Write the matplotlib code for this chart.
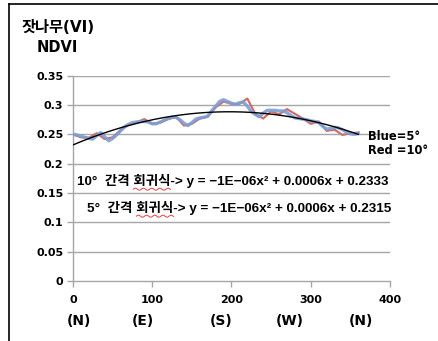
import numpy as np
import matplotlib
matplotlib.use("Agg")
import matplotlib.pyplot as plt
from matplotlib.lines import Line2D

plt.rcParams['font.family'] = ['DejaVu Sans', 'Noto Sans CJK KR']

# Azimuth (degrees) and NDVI for Korean pine
deg_5 = list(range(0, 361, 5))
ndvi_5 = [0.250, 0.249, 0.247, 0.245, 0.243, 0.242, 0.248, 0.253, 0.246, 0.239,
          0.243, 0.249, 0.256, 0.263, 0.267, 0.270, 0.271, 0.272, 0.272, 0.271,
          0.268, 0.268, 0.271, 0.274, 0.277, 0.279, 0.279, 0.275, 0.269, 0.265,
          0.270, 0.276, 0.278, 0.279, 0.281, 0.290, 0.298, 0.306, 0.309, 0.306,
          0.303, 0.301, 0.304, 0.305, 0.298, 0.289, 0.284, 0.280, 0.286, 0.291,
          0.291, 0.291, 0.290, 0.290, 0.287, 0.282, 0.278, 0.277, 0.276, 0.275,
          0.273, 0.272, 0.270, 0.264, 0.259, 0.260, 0.262, 0.261, 0.258, 0.254,
          0.251, 0.250, 0.252]

deg_10 = list(range(0, 361, 10))
ndvi_10 = [0.250, 0.245, 0.244, 0.252, 0.242, 0.245, 0.257, 0.266, 0.270, 0.276,
           0.268, 0.270, 0.276, 0.280, 0.265, 0.268, 0.277, 0.280, 0.296, 0.306,
           0.302, 0.302, 0.311, 0.285, 0.277, 0.289, 0.284, 0.293, 0.285, 0.277,
           0.268, 0.272, 0.256, 0.258, 0.249, 0.252, 0.253]

y_ticks = [0, 0.05, 0.1, 0.15, 0.2, 0.25, 0.3, 0.35]
y_tick_labels = ['0', '0.05', '0.1', '0.15', '0.2', '0.25', '0.3', '0.35']
x_ticks = [0, 100, 200, 300, 400]
directions = ['(N)', '(E)', '(S)', '(W)', '(N)']
direction_x = [8, 88, 187, 274, 363]

eq_10 = "10°  간격 회귀식-> y = −1E−06x² + 0.0006x + 0.2333"
eq_5 = "5°  간격 회귀식-> y = −1E−06x² + 0.0006x + 0.2315"

W, H = 439, 341
fig = plt.figure(figsize=(W / 100, H / 100), dpi=100)
ax = fig.add_axes([73 / W, 1 - 281 / H, (390 - 73) / W, (281 - 75.7) / H])

grid_c = '#a6a6a6'
ax.set_xlim(0, 400)
ax.set_ylim(0, 0.35)
ax.set_yticks(y_ticks)
ax.set_yticklabels(y_tick_labels)
ax.set_xticks(x_ticks)
for y in y_ticks[1:]:
    ax.axhline(y, color=grid_c, lw=1.0, zorder=0)
for s in ['top', 'right']:
    ax.spines[s].set_visible(False)
for s in ['left', 'bottom']:
    ax.spines[s].set_color(grid_c)
    ax.spines[s].set_linewidth(1.0)
ax.tick_params(axis='both', colors=grid_c, length=4, width=1, labelcolor='black',
               labelsize=8)
ax.tick_params(axis='x', pad=6)
ax.tick_params(axis='y', pad=3)
for lab in ax.get_xticklabels() + ax.get_yticklabels():
    lab.set_fontweight('bold')

# 10-degree series, 5-degree series and quadratic trend
ax.plot(deg_10, ndvi_10, color='#cf6f6c', lw=1.6, zorder=2)
ax.plot(deg_5, ndvi_5, color='#7d9ed3', lw=2.4, alpha=0.9, zorder=3)
coef = np.polyfit(deg_10, ndvi_10, 2)
xt = np.linspace(0, 360, 200)
ax.plot(xt, np.polyval(coef, xt), color='black', lw=1.0, zorder=4)

# Compass direction labels beneath the x tick labels
for p, d in zip(direction_x, directions):
    ax.text(p, -0.068, d, ha='center', va='center', fontsize=10, fontweight='bold',
            clip_on=False)

eq_font = ['Liberation Sans', 'Noto Sans CJK KR']
eq_texts = [
    ax.text(5, 0.171, eq_10, fontsize=9.7, fontweight='bold', va='center', family=eq_font),
    ax.text(18, 0.125, eq_5, fontsize=9.7, fontweight='bold', va='center', family=eq_font),
]
ax.text(372, 0.246, "Blue=5°", fontsize=8.3, fontweight='bold', va='center',
        clip_on=False)
ax.text(372, 0.222, "Red =10°", fontsize=8.3, fontweight='bold', va='center',
        clip_on=False)

fig.text(22 / W, 1 - 27 / H, "잣나무(VI)", fontsize=11, fontweight='bold',
         va='center', ha='left')
fig.text(37 / W, 1 - 48 / H, "NDVI", fontsize=10.5, fontweight='bold', va='center', ha='left')

# Spell-check underline beneath 회귀식 in each equation
fig.canvas.draw()
renderer = fig.canvas.get_renderer()
for t in eq_texts:
    full = t.get_text()
    start = full.index("회귀식")
    t_pre = fig.text(0, 0, full[:start], fontsize=9.7, fontweight='bold', family=eq_font)
    t_mid = fig.text(0, 0, full[:start + 3], fontsize=9.7, fontweight='bold', family=eq_font)
    w_pre = t_pre.get_window_extent(renderer).width
    w_mid = t_mid.get_window_extent(renderer).width
    t_pre.remove()
    t_mid.remove()
    bb = t.get_window_extent(renderer)
    x0 = bb.x0 + w_pre
    x1 = bb.x0 + w_mid
    yb = bb.y0 - 1.5
    sx = np.linspace(x0, x1, 80)
    sy = yb + 1.0 * np.sin((sx - x0) / 1.3)
    fig.add_artist(Line2D(sx / W, sy / H, color='#e04040', lw=0.7))

# Frame lines along the top and left edge
fig.add_artist(Line2D([9.5 / W, 438 / W], [1 - 3.5 / H, 1 - 3.5 / H], color='black', lw=1.2))
fig.add_artist(Line2D([9.5 / W, 9.5 / W], [0, 1 - 3.5 / H], color='black', lw=1.2))

fig.savefig('out.png', dpi=100)
